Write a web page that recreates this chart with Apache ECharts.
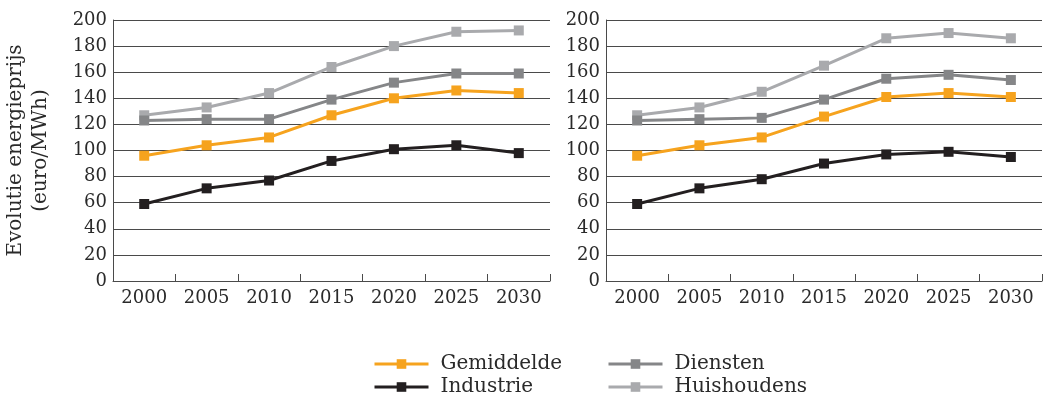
<!DOCTYPE html>
<html>
<head>
<meta charset="utf-8">
<script src="https://cdn.jsdelivr.net/npm/echarts@6/dist/echarts.min.js"></script>
<style>html,body{margin:0;padding:0;background:#fff;}#c{width:1047px;height:397px;}</style>
</head>
<body>
<div id="c"></div>
<script>
var years = ['2000','2005','2010','2015','2020','2025','2030'];
var seriesNames = ['Gemiddelde','Industrie','Diensten','Huishoudens'];
// Left chart
var leftGemiddelde = [96,104,110,127,140,146,144];
var leftIndustrie = [59,71,77,92,101,104,98];
var leftDiensten = [123,124,124,139,152,159,159];
var leftHuishoudens = [127,133,144,164,180,191,192];
// Right chart
var rightGemiddelde = [96,104,110,126,141,144,141];
var rightIndustrie = [59,71,78,90,97,99,95];
var rightDiensten = [123,124,125,139,155,158,154];
var rightHuishoudens = [127,133,145,165,186,190,186];
var yAxisTitle = 'Evolutie energieprijs\n(euro/MWh)';

var colors = {Gemiddelde:'#F6A31E', Industrie:'#231F20', Diensten:'#858688', Huishoudens:'#A9AAAD'};
var font = 'DejaVu Serif';
var txt = '#2a2a2a';
var axisCol = '#4a4a4a';

function mkX(i){
  return {type:'category', gridIndex:i, data:years, boundaryGap:true,
    axisLine:{show:true, lineStyle:{color:axisCol, width:1}},
    axisTick:{show:true, inside:true, length:7, interval:0, lineStyle:{color:axisCol}},
    axisLabel:{fontFamily:font, fontSize:18, color:txt, margin:8, interval:0},
    splitLine:{show:false}};
}
function mkY(i, name){
  var o = {type:'value', gridIndex:i, min:0, max:200, interval:20,
    axisLine:{show:true, lineStyle:{color:axisCol, width:1}},
    axisTick:{show:false},
    axisLabel:{fontFamily:font, fontSize:18, color:txt, margin:6},
    splitLine:{show:true, lineStyle:{color:axisCol, width:1}}};
  if(name){
    o.name = name; o.nameLocation='middle'; o.nameGap = 60; o.nameRotate = 90;
    o.nameTextStyle = {fontFamily:font, fontSize:20, color:txt, lineHeight:25};
  }
  return o;
}
function mkS(name, data, idx){
  return {name:name, type:'line', xAxisIndex:idx, yAxisIndex:idx, data:data,
    symbol:'rect', symbolSize:10, showSymbol:true,
    lineStyle:{color:colors[name], width:3},
    itemStyle:{color:colors[name]},
    emphasis:{disabled:true}, animation:false};
}
var legendText = {fontFamily:font, fontSize:20, color:txt, padding:[0,0,0,7]};
function mkL(name, left, top){
  return {data:[name], left:left, top:top, itemWidth:54, itemHeight:12, padding:0,
    lineStyle:{width:3}, textStyle:legendText, selectedMode:false};
}
var chart = echarts.init(document.getElementById('c'));
chart.setOption({
  animation:false,
  grid:[{left:113, right:497, top:20, bottom:116},{left:606, right:5, top:20, bottom:116}],
  xAxis:[mkX(0), mkX(1)],
  yAxis:[mkY(0, yAxisTitle), mkY(1, null)],
  legend:[
    mkL('Gemiddelde', 373, 354),
    mkL('Industrie', 373, 377),
    mkL('Diensten', 607, 354),
    mkL('Huishoudens', 607, 377)
  ],
  series:[
    mkS('Huishoudens', leftHuishoudens, 0),
    mkS('Diensten', leftDiensten, 0),
    mkS('Gemiddelde', leftGemiddelde, 0),
    mkS('Industrie', leftIndustrie, 0),
    mkS('Huishoudens', rightHuishoudens, 1),
    mkS('Diensten', rightDiensten, 1),
    mkS('Gemiddelde', rightGemiddelde, 1),
    mkS('Industrie', rightIndustrie, 1)
  ]
});
</script>
</body>
</html>
